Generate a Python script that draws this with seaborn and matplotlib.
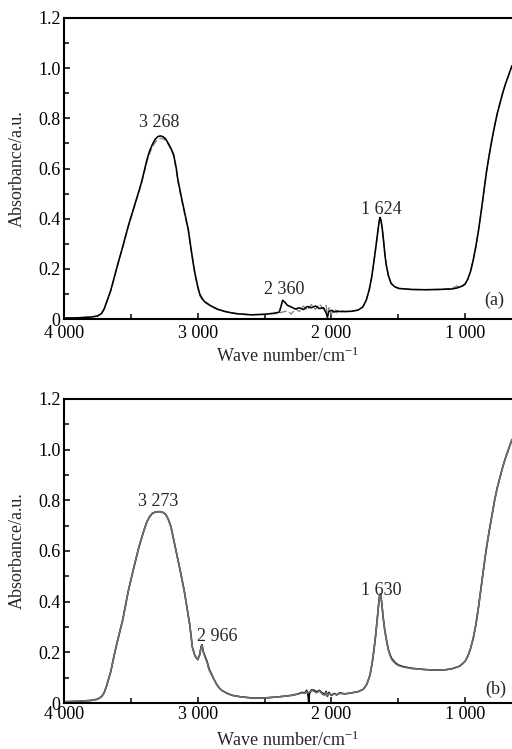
import matplotlib
matplotlib.use("Agg")
import matplotlib.pyplot as plt
import seaborn as sns
from matplotlib.ticker import MultipleLocator, FixedLocator, FuncFormatter

# DATA ===========================================================================================================

x_ticks = [4000, 3000, 2000, 1000]
x_tick_labels = ["4 000", "3 000", "2 000", "1 000"]

# panel (a)
wn_a = [4000, 3900, 3800, 3750, 3720, 3700, 3680, 3650, 3620, 3600,
        3560, 3520, 3480, 3440, 3420, 3400, 3380, 3360, 3340, 3320,
        3300, 3280, 3260, 3240, 3220, 3200, 3180, 3160, 3150, 3120,
        3100, 3070, 3050, 3030, 3020, 3000, 2985, 2970, 2950, 2900,
        2850, 2800, 2750, 2700, 2600, 2500, 2420, 2390, 2375, 2365,
        2350, 2330, 2300, 2270, 2240, 2210, 2180, 2150, 2120, 2090,
        2060, 2040, 2030, 2020, 2000, 1980, 1960, 1940, 1900, 1850,
        1800, 1766, 1740, 1718, 1700, 1681, 1665, 1652, 1643, 1637,
        1630, 1620, 1610, 1600, 1590, 1575, 1555, 1530, 1510, 1495,
        1450, 1400, 1300, 1200, 1100, 1060, 1040, 1020, 1000, 980,
        960, 940, 920, 900, 880, 860, 840, 820, 800, 780,
        760, 740, 720, 700, 680, 660, 650]
abs_a_solid = [0.004, 0.005, 0.008, 0.012, 0.022, 0.040, 0.070, 0.115, 0.175, 0.215,
               0.290, 0.370, 0.440, 0.510, 0.546, 0.590, 0.635, 0.670, 0.695, 0.715,
               0.727, 0.730, 0.727, 0.718, 0.700, 0.680, 0.655, 0.600, 0.560, 0.480,
               0.430, 0.355, 0.280, 0.210, 0.180, 0.130, 0.100, 0.085, 0.070, 0.052,
               0.039, 0.031, 0.025, 0.021, 0.017, 0.019, 0.024, 0.028, 0.055, 0.075,
               0.068, 0.055, 0.048, 0.040, 0.045, 0.038, 0.050, 0.045, 0.052, 0.042,
               0.045, 0.025, 0.008, 0.030, 0.035, 0.028, 0.032, 0.030, 0.030, 0.031,
               0.036, 0.048, 0.075, 0.116, 0.165, 0.235, 0.300, 0.355, 0.390, 0.405,
               0.395, 0.360, 0.310, 0.255, 0.215, 0.175, 0.143, 0.130, 0.125, 0.122,
               0.120, 0.118, 0.117, 0.118, 0.120, 0.124, 0.128, 0.132, 0.140, 0.160,
               0.190, 0.235, 0.290, 0.355, 0.430, 0.510, 0.590, 0.655, 0.715, 0.770,
               0.820, 0.860, 0.900, 0.935, 0.965, 0.995, 1.010]
abs_a_dash = [0.004, 0.005, 0.008, 0.012, 0.022, 0.040, 0.068, 0.112, 0.172, 0.212,
              0.287, 0.366, 0.437, 0.506, 0.542, 0.585, 0.628, 0.660, 0.684, 0.703,
              0.715, 0.720, 0.719, 0.712, 0.696, 0.676, 0.650, 0.594, 0.553, 0.474,
              0.424, 0.350, 0.276, 0.207, 0.176, 0.125, 0.094, 0.080, 0.068, 0.050,
              0.038, 0.030, 0.025, 0.021, 0.017, 0.019, 0.022, 0.024, 0.026, 0.028,
              0.030, 0.032, 0.020, 0.042, 0.030, 0.052, 0.035, 0.058, 0.038, 0.060,
              0.040, 0.055, 0.002, 0.045, 0.020, 0.042, 0.025, 0.036, 0.030, 0.031,
              0.036, 0.048, 0.075, 0.116, 0.165, 0.235, 0.300, 0.355, 0.388, 0.402,
              0.393, 0.358, 0.308, 0.255, 0.215, 0.175, 0.143, 0.130, 0.125, 0.122,
              0.120, 0.118, 0.117, 0.118, 0.122, 0.132, 0.126, 0.132, 0.140, 0.160,
              0.190, 0.235, 0.290, 0.355, 0.430, 0.510, 0.590, 0.655, 0.715, 0.770,
              0.820, 0.860, 0.900, 0.935, 0.965, 0.995, 1.010]

# panel (b)
wn_b = [4000, 3900, 3800, 3750, 3720, 3700, 3680, 3650, 3620, 3600,
        3560, 3520, 3480, 3440, 3400, 3380, 3360, 3340, 3320, 3300,
        3280, 3260, 3240, 3220, 3200, 3180, 3160, 3130, 3100, 3080,
        3060, 3040, 3020, 3000, 2985, 2975, 2968, 2958, 2945, 2930,
        2915, 2900, 2885, 2860, 2840, 2820, 2780, 2740, 2685, 2600,
        2500, 2400, 2300, 2250, 2220, 2200, 2185, 2175, 2170, 2165,
        2150, 2130, 2110, 2090, 2070, 2050, 2040, 2030, 2020, 2000,
        1980, 1960, 1940, 1900, 1850, 1800, 1760, 1735, 1712, 1695,
        1680, 1668, 1657, 1648, 1640, 1633, 1624, 1614, 1602, 1590,
        1575, 1560, 1548, 1520, 1500, 1465, 1400, 1300, 1240, 1150,
        1100, 1060, 1040, 1020, 1000, 980, 960, 940, 920, 900,
        880, 860, 840, 820, 800, 780, 760, 740, 720, 700,
        680, 660, 650]
abs_b_gray = [0.005, 0.007, 0.010, 0.015, 0.025, 0.040, 0.070, 0.125, 0.200, 0.245,
              0.330, 0.440, 0.530, 0.615, 0.685, 0.715, 0.735, 0.748, 0.753, 0.755,
              0.755, 0.752, 0.745, 0.725, 0.695, 0.645, 0.595, 0.520, 0.440, 0.375,
              0.310, 0.220, 0.185, 0.170, 0.190, 0.220, 0.228, 0.200, 0.180, 0.160,
              0.130, 0.115, 0.100, 0.075, 0.060, 0.050, 0.038, 0.030, 0.025, 0.020,
              0.020, 0.024, 0.030, 0.035, 0.040, 0.038, 0.045, 0.040, 0.042, 0.044,
              0.050, 0.046, 0.040, 0.048, 0.036, 0.030, 0.042, 0.028, 0.038, 0.032,
              0.036, 0.033, 0.038, 0.036, 0.040, 0.045, 0.055, 0.075, 0.110, 0.160,
              0.220, 0.275, 0.335, 0.385, 0.425, 0.430, 0.395, 0.340, 0.290, 0.250,
              0.210, 0.185, 0.170, 0.155, 0.148, 0.142, 0.136, 0.132, 0.130, 0.131,
              0.135, 0.142, 0.146, 0.155, 0.165, 0.185, 0.215, 0.255, 0.310, 0.380,
              0.460, 0.540, 0.615, 0.680, 0.740, 0.800, 0.850, 0.890, 0.930, 0.965,
              0.995, 1.025, 1.040]
abs_b_black = [0.005, 0.007, 0.010, 0.015, 0.025, 0.040, 0.070, 0.125, 0.200, 0.245,
               0.330, 0.440, 0.530, 0.615, 0.685, 0.715, 0.735, 0.748, 0.753, 0.755,
               0.755, 0.752, 0.745, 0.725, 0.695, 0.645, 0.595, 0.520, 0.440, 0.375,
               0.310, 0.220, 0.185, 0.172, 0.192, 0.222, 0.230, 0.202, 0.184, 0.164,
               0.134, 0.118, 0.100, 0.075, 0.060, 0.050, 0.038, 0.030, 0.025, 0.020,
               0.020, 0.024, 0.030, 0.036, 0.042, 0.040, 0.050, 0.030, 0.000, 0.036,
               0.052, 0.050, 0.044, 0.050, 0.040, 0.034, 0.046, 0.026, 0.042, 0.030,
               0.038, 0.032, 0.040, 0.036, 0.040, 0.045, 0.055, 0.075, 0.110, 0.160,
               0.220, 0.275, 0.335, 0.385, 0.425, 0.430, 0.395, 0.340, 0.290, 0.252,
               0.212, 0.188, 0.174, 0.158, 0.150, 0.144, 0.137, 0.132, 0.130, 0.131,
               0.135, 0.142, 0.146, 0.155, 0.165, 0.185, 0.215, 0.255, 0.310, 0.380,
               0.460, 0.540, 0.615, 0.680, 0.740, 0.800, 0.850, 0.890, 0.930, 0.965,
               0.995, 1.025, 1.040]

peak_labels_a = [(3290, 0.785, "3 268"), (2355, 0.118, "2 360"), (1630, 0.435, "1 624")]
peak_labels_b = [(3297, 0.795, "3 273"), (2856, 0.262, "2 966"), (1630, 0.443, "1 630")]

# PLOTTER ========================================================================================================

sns.set_style("ticks")
plt.rcParams["font.family"] = ["Liberation Serif", "DejaVu Serif"]
plt.rcParams["mathtext.fontset"] = "custom"
plt.rcParams["mathtext.rm"] = "Liberation Serif"
plt.rcParams["mathtext.it"] = "Liberation Serif:italic"
FS = 13

fig = plt.figure(figsize=(5.12, 7.49), dpi=100)
ax_a = fig.add_axes([0.125, 0.574, 0.875, 0.402])
ax_b = fig.add_axes([0.125, 0.0614, 0.875, 0.406])

# (a): grey dashed under black solid
sns.lineplot(x=wn_a, y=abs_a_dash, ax=ax_a, color="#8a8a8a", lw=1.0, linestyle=(0, (5, 2)),
             estimator=None, sort=False)
sns.lineplot(x=wn_a, y=abs_a_solid, ax=ax_a, color="black", lw=1.15, estimator=None, sort=False)
# (b): black under grey
sns.lineplot(x=wn_b, y=abs_b_black, ax=ax_b, color="black", lw=1.15, estimator=None, sort=False)
sns.lineplot(x=wn_b, y=abs_b_gray, ax=ax_b, color="#6e6e6e", lw=1.15, estimator=None, sort=False)


def y_fmt(v, pos):
    return "0" if abs(v) < 1e-9 else f"{v:.1f}"


for ax, tag, tag_x, tag_y, peaks, xpad in [(ax_a, "(a)", 784, 0.076, peak_labels_a, 4.5),
                                             (ax_b, "(b)", 770, 0.055, peak_labels_b, 2)]:
    ax.set_xlim(4000, 650)
    ax.set_ylim(0, 1.2)
    ax.xaxis.set_major_locator(FixedLocator(x_ticks))
    ax.set_xticklabels(x_tick_labels)
    ax.xaxis.set_minor_locator(MultipleLocator(500))
    ax.yaxis.set_major_locator(MultipleLocator(0.2))
    ax.yaxis.set_minor_locator(MultipleLocator(0.1))
    ax.yaxis.set_major_formatter(FuncFormatter(y_fmt))
    ax.tick_params(which="both", direction="in", labelsize=FS, width=1.1, colors="black")
    ax.tick_params(which="major", length=4)
    ax.tick_params(which="minor", length=3.5)
    ax.tick_params(axis="y", pad=2.5)
    ax.tick_params(axis="x", pad=xpad)
    ax.spines["right"].set_visible(False)
    for s in ["left", "bottom", "top"]:
        ax.spines[s].set_linewidth(1.5)
        ax.spines[s].set_color("black")
    ax.set_xlabel("Wave number/cm$^{-1}$", fontsize=FS)
    ax.set_ylabel("Absorbance/a.u.", fontsize=FS)
    ax.xaxis.set_label_coords(0.5, -0.09)
    ax.yaxis.set_label_coords(-0.085, 0.5)
    for px, py, txt in peaks:
        ax.text(px, py, txt, fontsize=FS, ha="center", va="center")
    ax.text(tag_x, tag_y, tag, fontsize=FS, ha="center", va="center")

plt.savefig("out.png", dpi=100)
